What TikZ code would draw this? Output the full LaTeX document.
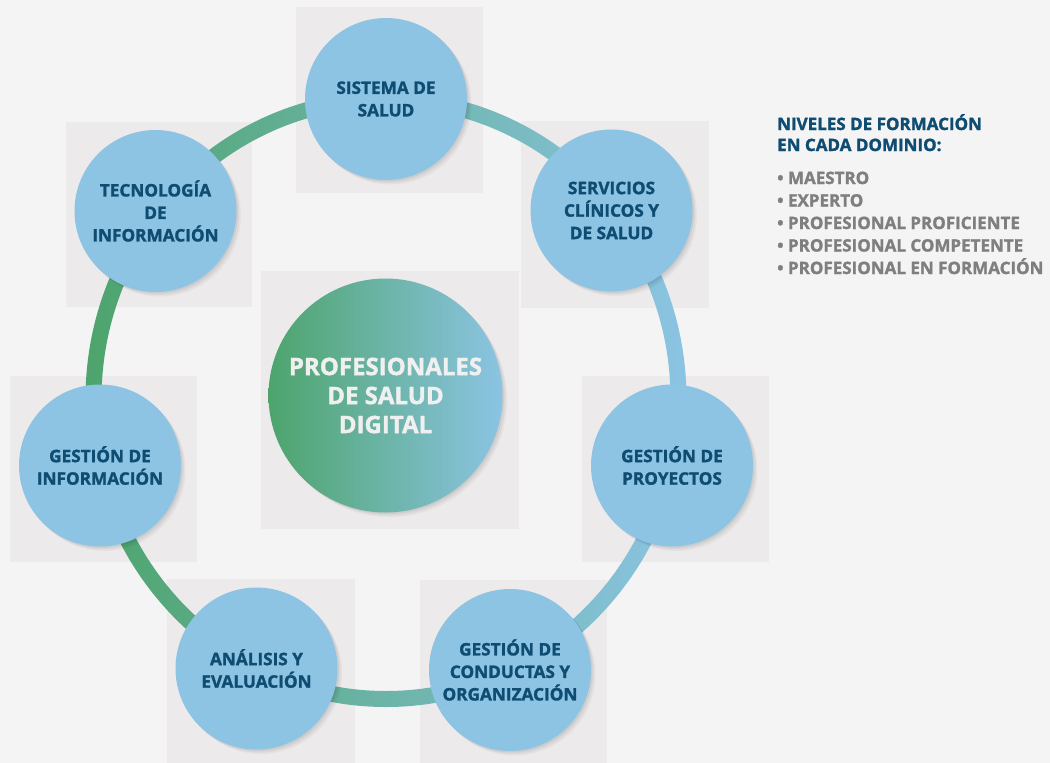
\documentclass[tikz,border=0pt]{standalone}
\usepackage{fontspec}
\setmainfont{Open Sans}[BoldFeatures={FakeBold=1.5}]

\definecolor{bgcol}{HTML}{F4F4F4}
\definecolor{panelcol}{HTML}{ECEAEB}
\definecolor{domblue}{HTML}{8DC4E4}
\definecolor{navy}{HTML}{0F4C72}
\definecolor{legendgray}{HTML}{7F7F7F}
\definecolor{leafgreen}{HTML}{4DA46C}
\definecolor{skyblue}{HTML}{8BC4E3}

\tikzset{
  panelbox/.style={fill=panelcol, draw=none},
  % soft drop shadow toward the lower right, built from offset copies
  softshadow/.style={
    preaction={fill=black, fill opacity=0.05,
      transform canvas={xshift=1.5pt, yshift=-1.5pt}},
    preaction={fill=black, fill opacity=0.045,
      transform canvas={xshift=3pt, yshift=-3pt}},
    preaction={fill=black, fill opacity=0.035,
      transform canvas={xshift=4.5pt, yshift=-4.5pt}}},
  dombox/.style={circle, minimum size=162pt, inner sep=0pt, softshadow,
    fill=domblue, text=navy, align=center,
    font=\fontsize{17.2}{22.5}\selectfont\bfseries},
  hubbox/.style={circle, minimum size=234pt, inner sep=0pt, softshadow,
    left color=leafgreen, right color=skyblue,
    text=white!94!black, align=center,
    font=\fontsize{24}{29}\selectfont\bfseries},
  headline/.style={anchor=base west, inner sep=0pt, text=navy,
    font=\fontsize{17}{21}\selectfont\bfseries},
  levelline/.style={anchor=base west, inner sep=0pt, text=legendgray,
    font=\fontsize{17}{22}\selectfont\bfseries}
}

\begin{document}
\begin{tikzpicture}[x=1pt,y=-1pt]
  % canvas
  \useasboundingbox (0,0) rectangle (1050,763);
  \fill[bgcol] (0,0) rectangle (1050,763);

  % square panels behind every circle
  \fill[panelbox] (296,7)   rectangle (483,193);
  \fill[panelbox] (66,122)  rectangle (252,307);
  \fill[panelbox] (521,121) rectangle (709,308);
  \fill[panelbox] (10,376)  rectangle (197,562);
  \fill[panelbox] (582,376) rectangle (769,562);
  \fill[panelbox] (167,579) rectangle (355,763);
  \fill[panelbox] (420,580) rectangle (607,763);
  \fill[panelbox] (261,271) rectangle (519,529);

  % ring joining the seven domains, green to blue
  \shade[even odd rule, left color=leafgreen, right color=skyblue]
    (386,399) ellipse [x radius=300.5, y radius=308]
    (386,399) ellipse [x radius=284.5, y radius=292];

  % central hub
  \node (hub) [hubbox] at (385.5,395.5) {PROFESIONALES\\DE SALUD\\DIGITAL};

  % domains
  \node (sis)  [dombox] at (386,99)      {SISTEMA DE\\SALUD};
  \node (serv) [dombox] at (611.5,210.5) {SERVICIOS\\CLÍNICOS Y\\DE SALUD};
  \node (proy) [dombox] at (672,465.5)   {GESTIÓN DE\\PROYECTOS};
  \node (cond) [dombox] at (510,670)     {GESTIÓN DE\\CONDUCTAS Y\\ORGANIZACIÓN};
  \node (anal) [dombox] at (256.5,668.5) {ANÁLISIS Y\\EVALUACIÓN};
  \node (info) [dombox] at (100,465.5)   {GESTIÓN DE\\INFORMACIÓN};
  \node (tec)  [dombox] at (155.5,211)   {TECNOLOGÍA\\DE\\INFORMACIÓN};

  % legend
  \node (head1) [headline] at (777,130) {NIVELES DE FORMACIÓN};
  \node (head2) [headline] at (777,151) {EN CADA DOMINIO:};
  \node (lv1) [levelline] at (777,184)   {• MAESTRO};
  \node (lv2) [levelline] at (777,206.5) {• EXPERTO};
  \node (lv3) [levelline] at (777,229)   {• PROFESIONAL PROFICIENTE};
  \node (lv4) [levelline] at (777,251.5) {• PROFESIONAL COMPETENTE};
  \node (lv5) [levelline] at (777,274)   {• PROFESIONAL EN FORMACIÓN};
\end{tikzpicture}
\end{document}
